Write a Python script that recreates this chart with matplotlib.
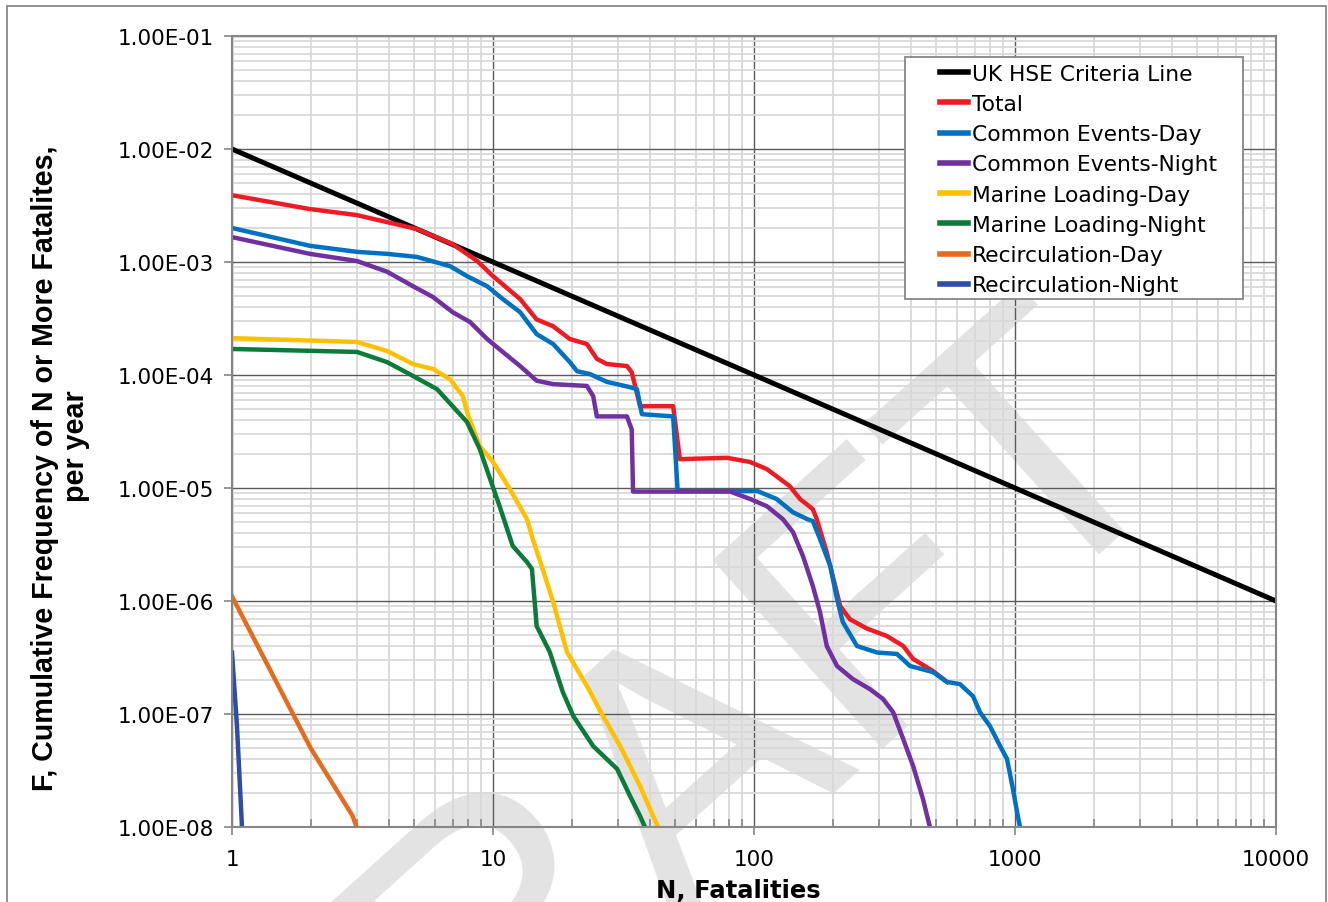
import matplotlib
matplotlib.use("Agg")
import matplotlib.pyplot as plt
from matplotlib.patches import Rectangle
from matplotlib.ticker import FixedLocator, LogLocator, NullFormatter

# ---- data ----
hse_n = [1, 10000]
hse_f = [1e-2, 1e-6]

total_n = [1, 1.99, 3.01, 5.1, 7.0, 8.7, 10, 12.7, 14.7, 17, 19.7, 22.9, 25, 27.3,
           32.6, 34, 36.6, 49, 52, 78.8, 96.5, 112, 137, 150, 168, 174, 190, 214,
           233, 271, 323, 373, 407, 485, 549]
total_f = [3.9e-3, 2.94e-3, 2.6e-3, 1.96e-3, 1.44e-3, 1.02e-3, 7.5e-4, 4.7e-4, 3.1e-4,
           2.7e-4, 2.08e-4, 1.88e-4, 1.39e-4, 1.25e-4, 1.2e-4, 1.06e-4, 5.3e-5, 5.3e-5,
           1.8e-5, 1.85e-5, 1.7e-5, 1.47e-5, 1.04e-5, 8.0e-6, 6.5e-6, 5.3e-6, 2.7e-6,
           9.0e-7, 6.9e-7, 5.7e-7, 4.9e-7, 4.0e-7, 3.07e-7, 2.4e-7, 1.92e-7]

ced_n = [1, 1.99, 3.01, 3.93, 5.1, 6.84, 7.95, 9.5, 10.9, 12.7, 14.7, 17, 19.7, 21,
         23.5, 27.3, 33.5, 35.6, 37.2, 49, 51, 81, 103, 122, 141, 160, 168, 179, 196,
         208, 219, 248, 296, 353, 396, 485, 549, 615, 690, 734, 802, 877, 932, 982,
         1018, 1045]
ced_f = [2.0e-3, 1.39e-3, 1.23e-3, 1.18e-3, 1.11e-3, 9.2e-4, 7.5e-4, 6.1e-4, 4.7e-4,
         3.6e-4, 2.3e-4, 1.88e-4, 1.3e-4, 1.08e-4, 1.02e-4, 8.7e-5, 7.8e-5, 7.5e-5,
         4.5e-5, 4.3e-5, 9.4e-6, 9.4e-6, 9.4e-6, 8.0e-6, 6.1e-6, 5.3e-6, 5.1e-6,
         3.54e-6, 2.04e-6, 1.04e-6, 6.5e-7, 4.0e-7, 3.5e-7, 3.4e-7, 2.66e-7, 2.35e-7,
         1.92e-7, 1.84e-7, 1.44e-7, 1.04e-7, 7.8e-8, 5.2e-8, 4.0e-8, 2.17e-8, 1.36e-8,
         1.0e-8]

cen_n = [1, 1.99, 3.01, 3.93, 4.94, 5.89, 7.0, 8.17, 9.5, 10.9, 12.7, 14.7, 17, 22.9,
         24.2, 25, 32.6, 34, 34.4, 81, 96.6, 112, 129, 141, 154, 168, 179, 190, 208,
         239, 278, 312, 341, 373, 407, 444, 472]
cen_f = [1.66e-3, 1.18e-3, 1.02e-3, 8.2e-4, 6.1e-4, 4.9e-4, 3.6e-4, 2.94e-4, 2.08e-4,
         1.6e-4, 1.2e-4, 8.9e-5, 8.3e-5, 8.0e-5, 6.5e-5, 4.3e-5, 4.3e-5, 3.3e-5,
         9.3e-6, 9.3e-6, 8.0e-6, 6.9e-6, 5.3e-6, 4.08e-6, 2.5e-6, 1.36e-6, 8.0e-7,
         4.0e-7, 2.66e-7, 2.04e-7, 1.66e-7, 1.36e-7, 1.04e-7, 6.0e-8, 3.47e-8,
         1.77e-8, 1.0e-8]

mld_n = [1, 3.01, 3.93, 4.94, 5.89, 6.84, 7.67, 7.95, 8.9, 10, 11.6, 13.5, 14.2, 15.5,
         17, 19.2, 22.9, 26.4, 30.7, 36.6, 40, 42.9]
mld_f = [2.12e-4, 1.96e-4, 1.63e-4, 1.25e-4, 1.13e-4, 9.2e-5, 6.5e-5, 4.7e-5, 2.35e-5,
         1.7e-5, 9.8e-6, 5.3e-6, 3.54e-6, 1.92e-6, 9.8e-7, 3.54e-7, 1.77e-7, 9.6e-8,
         5.2e-8, 2.3e-8, 1.44e-8, 1e-8]

mln_n = [1, 3.01, 3.93, 4.94, 6.1, 7.0, 7.95, 8.9, 9.75, 10.6, 11.9, 13.5, 14.1, 14.7,
         16.5, 18.5, 20.3, 24.2, 29.9, 33.5, 36.6, 38.2]
mln_f = [1.7e-4, 1.6e-4, 1.3e-4, 9.8e-5, 7.5e-5, 5.3e-5, 3.84e-5, 2.21e-5, 1.2e-5,
         6.9e-6, 3.07e-6, 2.21e-6, 1.92e-6, 6.0e-7, 3.54e-7, 1.57e-7, 9.6e-8, 5.2e-8,
         3.26e-8, 1.88e-8, 1.25e-8, 1e-8]

rcd_n = [1, 2, 2.9, 3.0]
rcd_f = [1.1e-6, 5e-8, 1.25e-8, 1e-8]

rcn_n = [1, 1.045, 1.092]
rcn_f = [3.5e-7, 7.8e-8, 1e-8]

series = [
    ("UK HSE Criteria Line", hse_n, hse_f, "#000000"),
    ("Total", total_n, total_f, "#ED1C24"),
    ("Common Events-Day", ced_n, ced_f, "#0070C0"),
    ("Common Events-Night", cen_n, cen_f, "#7030A0"),
    ("Marine Loading-Day", mld_n, mld_f, "#FFC000"),
    ("Marine Loading-Night", mln_n, mln_f, "#0B7A3A"),
    ("Recirculation-Day", rcd_n, rcd_f, "#E46C1E"),
    ("Recirculation-Night", rcn_n, rcn_f, "#2E4DA7"),
]

y_ticks = [1e-8, 1e-7, 1e-6, 1e-5, 1e-4, 1e-3, 1e-2, 1e-1]
y_labels = ["1.00E-08", "1.00E-07", "1.00E-06", "1.00E-05",
            "1.00E-04", "1.00E-03", "1.00E-02", "1.00E-01"]
x_ticks = [1, 10, 100, 1000, 10000]
x_labels = ["1", "10", "100", "1000", "10000"]

fig = plt.figure(figsize=(13.28, 9.03), dpi=100)
ax = fig.add_axes([232 / 1328, 75 / 903, 1044 / 1328, 791 / 903])
ax.patch.set_alpha(0)

# faint DRAFT watermark behind everything (partly off the page, as in the source)
fig.text(0.5505, 0.0498, "DRAFT", fontsize=266, color="#e3e3e3",
         family=["Liberation Sans", "DejaVu Sans"],
         rotation=42, rotation_mode="anchor", ha="center", va="baseline", zorder=-1)

for name, n, f, c in series:
    lw = 3.6 if c == "#000000" else 3.2
    ax.plot(n, f, color=c, lw=lw, label=name, solid_joinstyle="round")

ax.set_xscale("log")
ax.set_yscale("log")
ax.set_xlim(1, 10000)
ax.set_ylim(1e-8, 1e-1)

ax.xaxis.set_major_locator(FixedLocator(x_ticks))
ax.set_xticklabels(x_labels)
ax.xaxis.set_minor_locator(LogLocator(base=10, subs=range(2, 10), numticks=50))
ax.xaxis.set_minor_formatter(NullFormatter())
ax.yaxis.set_major_locator(FixedLocator(y_ticks))
ax.set_yticklabels(y_labels)
ax.yaxis.set_minor_locator(LogLocator(base=10, subs=range(2, 10), numticks=50))
ax.yaxis.set_minor_formatter(NullFormatter())

ax.grid(which="minor", color="#d9d9d9", lw=1.3)
ax.grid(which="major", color="#5a5a5a", lw=1.0)
ax.set_axisbelow(True)

ax.tick_params(axis="both", which="major", labelsize=15.5, color="#868686",
               direction="out", length=6, width=1.2)
ax.tick_params(axis="y", which="major", pad=7)
ax.tick_params(axis="x", which="major", pad=10)
ax.tick_params(axis="x", which="minor", direction="in", length=6, width=1.2,
               color="#868686")
ax.tick_params(axis="y", which="minor", length=0)
for side in ["left", "bottom", "top", "right"]:
    ax.spines[side].set_color("#868686")
    ax.spines[side].set_linewidth(1.5)

ax.set_xlabel("N, Fatalities", fontsize=17.5, fontweight="bold")
ax.xaxis.set_label_coords(0.4847, -0.064)

ylab_font = dict(rotation=90, ha="center", va="center", fontsize=20.6,
                 fontweight="bold", family=["Liberation Sans Narrow",
                                            "Liberation Sans", "DejaVu Sans"])
fig.text(45 / 1328, 1 - 468 / 903, "F, Cumulative Frequency of N or More Fatalites,",
         **ylab_font)
fig.text(76 / 1328, 1 - 446 / 903, "per year", **ylab_font)

# legend box drawn separately so the handles can sit well inside it
ax.add_patch(Rectangle((0.6446, 0.6675), 0.3238, 0.306, transform=ax.transAxes,
                       facecolor="white", edgecolor="#868686", lw=1.3, zorder=4.5))
leg = ax.legend(loc="upper left", bbox_to_anchor=(0.678, 0.9650), frameon=False,
                fontsize=15.7, handlelength=1.28, handletextpad=0.18,
                labelspacing=0.47, borderpad=0, borderaxespad=0)
for h in leg.get_lines():
    h.set_linewidth(4)

# outer border around the whole graphic
fig.patches.append(Rectangle((7 / 1328, -0.01), 1319 / 1328, 1 - 7 / 903 + 0.01,
                             transform=fig.transFigure, fill=False,
                             edgecolor="#7f7f7f", lw=1.2))

fig.savefig("out.png", dpi=100)
